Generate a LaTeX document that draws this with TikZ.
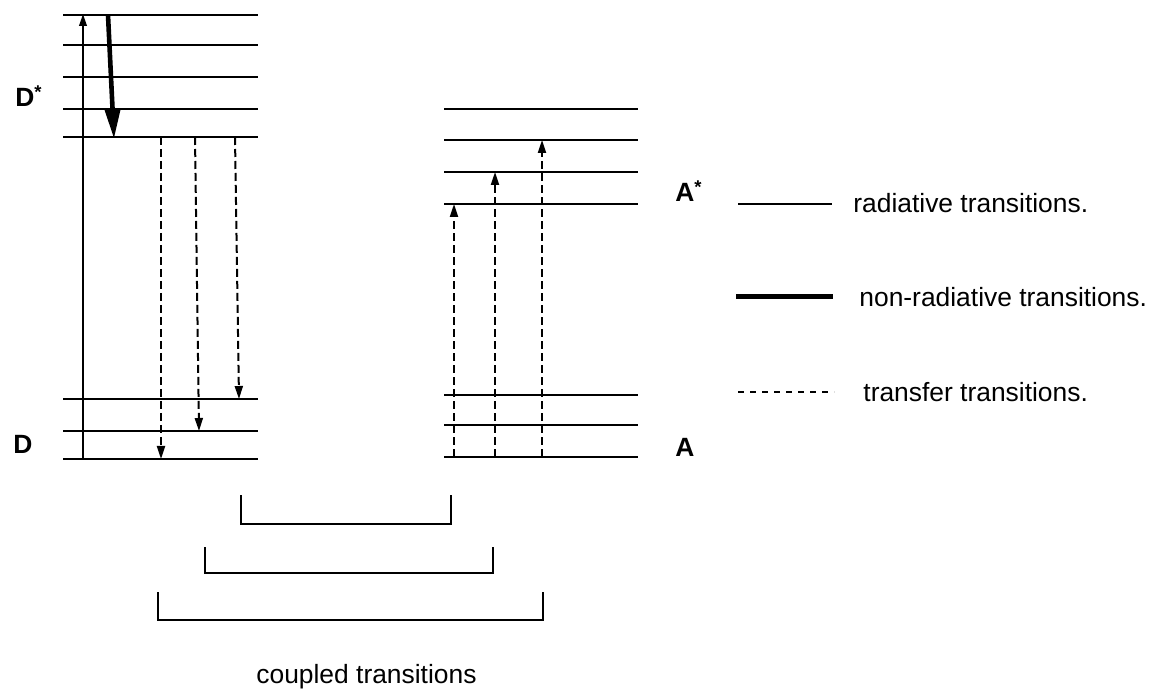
\documentclass[tikz,border=0pt]{standalone}
\usepackage{fontspec}
\setmainfont{Liberation Sans}
\usetikzlibrary{arrows.meta}
\tikzset{
  level/.style={line width=1pt},
  rad/.style={line width=1pt,-{Triangle[length=6pt,width=3.8pt]}},
  nonrad/.style={line width=2.3pt,-{Triangle[length=15pt,width=7.5pt]}},
  transfer/.style={line width=1pt,dash pattern=on 4pt off 2pt,-{Triangle[length=6.5pt,width=4pt]}},
  brack/.style={line width=1pt},
  lbl/.style={inner sep=0pt,anchor=base west,font=\bfseries},
  legtxt/.style={inner sep=0pt,anchor=base west}
}
\begin{document}
\fontsize{13.2}{15}\selectfont
\begin{tikzpicture}[x=0.5pt,y=-0.5pt,line cap=butt,line join=miter]
\useasboundingbox (0,0) rectangle (1151,689);
\foreach \y in {15,45,77,109,137,399,431,459}
  \draw [level] (63,\y) -- (258,\y);
\foreach \y in {109,140,172,204,395,425,457}
  \draw [level] (444,\y) -- (638,\y);
\coordinate (dg) at (83,459);
\coordinate (dt) at (83,14);
\draw [rad] (dg) -- (dt);
\coordinate (nr1) at (108,15);
\coordinate (nr2) at (114,139);
\draw [nonrad] (nr1) -- (nr2);
\coordinate (t1a) at (161,137);
\coordinate (t1b) at (161,459);
\coordinate (t2a) at (195,137);
\coordinate (t2b) at (199,431);
\coordinate (t3a) at (235,137);
\coordinate (t3b) at (239,399);
\draw [transfer] (t1a) -- (t1b);
\draw [transfer] (t2a) -- (t2b);
\draw [transfer] (t3a) -- (t3b);
\coordinate (u1a) at (454,457);
\coordinate (u1b) at (454,204);
\coordinate (u2a) at (495,457);
\coordinate (u2b) at (495,172);
\coordinate (u3a) at (542,457);
\coordinate (u3b) at (542,140);
\draw [transfer] (u1a) -- (u1b);
\draw [transfer] (u2a) -- (u2b);
\draw [transfer] (u3a) -- (u3b);
\draw [brack] (241,495) -- (241,524) -- (451,524) -- (451,495);
\draw [brack] (205,547) -- (205,573) -- (493,573) -- (493,547);
\draw [brack] (158,592) -- (158,620) -- (543,620) -- (543,592);
\node [lbl] (dstar) at (15,107) {D\textsuperscript{*}};
\node [lbl] (dgr) at (13,453) {D};
\node [lbl] (astar) at (675,202) {A\textsuperscript{*}};
\node [lbl] (agr) at (675,457) {A};
\draw [line width=1pt] (738,204) -- (832,204);
\draw [line width=2.5pt] (736,297) -- (833,297);
\draw [line width=0.6pt,dash pattern=on 3pt off 3pt] (738,392) -- (834,392);
\node [legtxt] (lrad) at (853,213) {radiative transitions.};
\node [legtxt] (lnonrad) at (859,307) {non-radiative transitions.};
\node [legtxt] (ltrans) at (863,402) {transfer transitions.};
\node [legtxt] (coupled) at (256,683) {coupled transitions};
\end{tikzpicture}
\end{document}
